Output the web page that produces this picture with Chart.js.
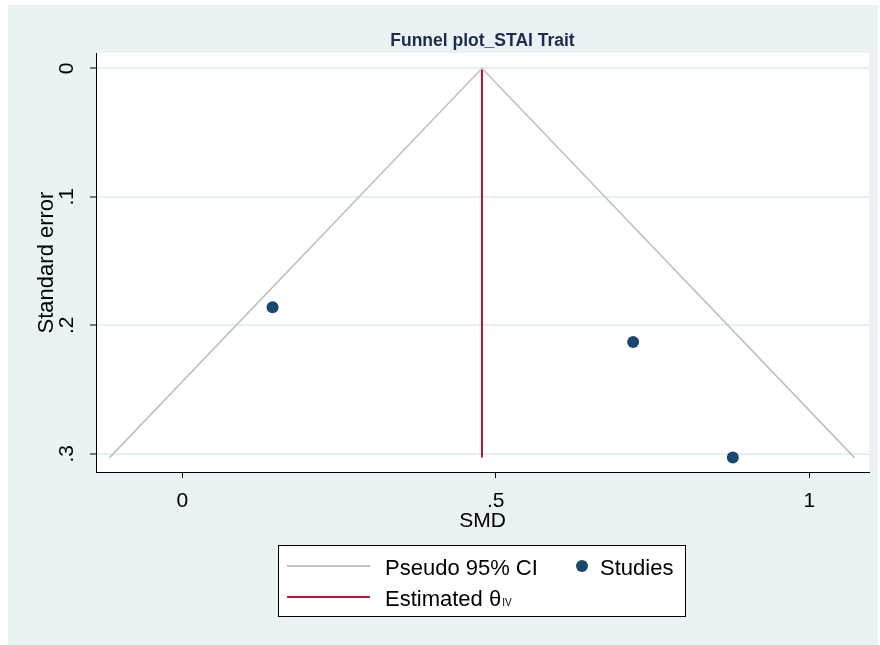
<!DOCTYPE html>
<html>
<head>
<meta charset="utf-8">
<script src="https://cdn.jsdelivr.net/npm/chart.js@4.4.1/dist/chart.umd.min.js"></script>
<style>
  html, body { margin: 0; padding: 0; background: #ffffff; }
  #wrap { position: relative; width: 880px; height: 645px; }
  canvas { display: block; }
</style>
</head>
<body>
<div id="wrap"><canvas id="c" width="880" height="645"></canvas></div>
<script>
// ---- data ----
const titleText = "Funnel plot_STAI Trait";
const xTickValues = [0, 0.5, 1];
const xTickLabels = ["0", ".5", "1"];
const yTickValues = [0, 0.1, 0.2, 0.3];
const yTickLabels = ["0", ".1", ".2", ".3"];
const studySMD = [0.144, 0.719, 0.878];
const studySE  = [0.186, 0.213, 0.303];
const funnelSMD = [-0.116, 0.478, 1.072];
const funnelSE  = [0.303, 0, 0.303];
const estimateSMD = [0.478, 0.478];
const estimateSE  = [0, 0.303];

const FONT = "'Liberation Sans', Arial, Helvetica, sans-serif";
const BG = '#eaf2f3';
const GRAY = '#c0c0c0';
const RED = '#c3123a';
const NAVY = '#1a476f';

const toPts = (xs, ys) => xs.map((x, i) => ({ x: x, y: ys[i] }));

const decor = {
  id: 'decor',
  beforeDraw(chart) {
    const ctx = chart.ctx, a = chart.chartArea;
    ctx.save();
    ctx.fillStyle = '#ffffff';
    ctx.fillRect(0, 0, chart.width, chart.height);
    ctx.fillStyle = BG;
    ctx.fillRect(8, 5, 870, 640);
    ctx.fillStyle = '#ffffff';
    ctx.fillRect(a.left, a.top, a.right - a.left, a.bottom - a.top);
    ctx.restore();
  },
  afterDraw(chart) {
    const ctx = chart.ctx, a = chart.chartArea;
    const xs = chart.scales.x, ys = chart.scales.y;
    const cx = (a.left + a.right) / 2, cy = (a.top + a.bottom) / 2;
    ctx.save();
    ctx.fillStyle = '#000000';
    // x tick labels
    ctx.font = '21px ' + FONT;
    ctx.textAlign = 'center';
    ctx.textBaseline = 'alphabetic';
    xTickValues.forEach((v, i) => {
      ctx.fillText(xTickLabels[i], xs.getPixelForValue(v), 507);
    });
    // y tick labels (rotated)
    yTickValues.forEach((v, i) => {
      ctx.save();
      ctx.translate(73, ys.getPixelForValue(v));
      ctx.rotate(-Math.PI / 2);
      ctx.fillText(yTickLabels[i], 0, 0);
      ctx.restore();
    });
    // axis titles
    ctx.font = '21px ' + FONT;
    ctx.fillText('SMD', cx, 527);
    ctx.save();
    ctx.translate(53, cy);
    ctx.rotate(-Math.PI / 2);
    ctx.font = '22px ' + FONT;
    ctx.fillText('Standard error', 0, 0);
    ctx.restore();
    // title
    ctx.font = 'bold 17.5px ' + FONT;
    ctx.fillStyle = '#1c2b4e';
    ctx.fillText(titleText, cx, 46);

    // legend
    ctx.fillStyle = '#ffffff';
    ctx.fillRect(278, 545, 408, 72);
    ctx.strokeStyle = '#000000';
    ctx.lineWidth = 1;
    ctx.strokeRect(278.5, 545.5, 407, 71);
    ctx.lineWidth = 2;
    ctx.strokeStyle = GRAY;
    ctx.beginPath(); ctx.moveTo(287, 566); ctx.lineTo(370, 566); ctx.stroke();
    ctx.strokeStyle = RED;
    ctx.beginPath(); ctx.moveTo(287, 597); ctx.lineTo(370, 597); ctx.stroke();
    ctx.fillStyle = NAVY;
    ctx.beginPath(); ctx.arc(582, 566, 6, 0, Math.PI * 2); ctx.fill();
    ctx.fillStyle = '#000000';
    ctx.textAlign = 'left';
    ctx.font = '22px ' + FONT;
    ctx.fillText('Pseudo 95% CI', 385, 575);
    ctx.fillText('Studies', 600, 575);
    const est = 'Estimated θ';
    ctx.fillText(est, 385, 606);
    const w = ctx.measureText(est).width;
    ctx.font = '10px ' + FONT;
    ctx.fillText('IV', 385 + w + 1, 606);
    ctx.restore();
  }
};

new Chart(document.getElementById('c'), {
  type: 'scatter',
  data: {
    datasets: [
      {
        label: 'Pseudo 95% CI',
        data: toPts(funnelSMD, funnelSE),
        showLine: true,
        borderColor: GRAY,
        borderWidth: 1.6,
        pointRadius: 0,
        fill: false
      },
      {
        label: 'Estimated θIV',
        data: toPts(estimateSMD, estimateSE),
        showLine: true,
        borderColor: RED,
        borderWidth: 2,
        pointRadius: 0,
        fill: false
      },
      {
        label: 'Studies',
        data: toPts(studySMD, studySE),
        pointRadius: 6,
        pointBackgroundColor: NAVY,
        pointBorderWidth: 0,
        showLine: false
      }
    ]
  },
  options: {
    responsive: false,
    animation: false,
    layout: { padding: { left: 96, top: 53, right: 11, bottom: 173 } },
    plugins: { legend: { display: false }, tooltip: { enabled: false }, title: { display: false } },
    scales: {
      x: {
        type: 'linear',
        min: -0.1376,
        max: 1.0952,
        afterFit(s) { s.height = 0; },
        afterBuildTicks(s) { s.ticks = xTickValues.map(v => ({ value: v })); },
        ticks: { display: false },
        border: { display: true, color: '#000000', width: 1 },
        grid: { drawOnChartArea: false, drawTicks: true, tickLength: 6, tickColor: '#000000', tickWidth: 1 }
      },
      y: {
        type: 'linear',
        reverse: true,
        min: -0.0119,
        max: 0.3142,
        afterFit(s) { s.width = 0; },
        afterBuildTicks(s) { s.ticks = yTickValues.map(v => ({ value: v })); },
        ticks: { display: false },
        border: { display: true, color: '#000000', width: 1 },
        grid: { drawOnChartArea: true, color: '#e6eff1', lineWidth: 2, drawTicks: true, tickLength: 6, tickColor: '#000000', tickWidth: 1 }
      }
    }
  },
  plugins: [decor]
});
</script>
</body>
</html>
